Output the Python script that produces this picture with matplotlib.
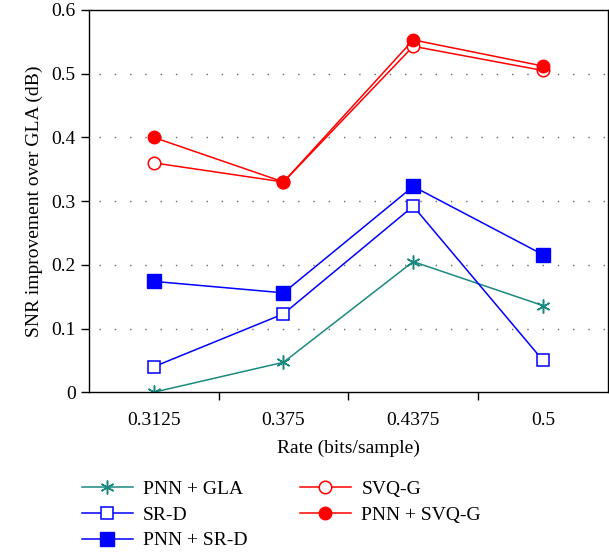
import matplotlib
matplotlib.use("Agg")
import matplotlib.pyplot as plt
from matplotlib.ticker import FixedLocator, NullFormatter

plt.rcParams["font.family"] = ["Liberation Serif", "DejaVu Serif"]

rates = [0.3125, 0.375, 0.4375, 0.5]
rate_labels = ["0.3125", "0.375", "0.4375", "0.5"]

pnn_gla = [0.0, 0.047, 0.205, 0.136]
sr_d = [0.040, 0.123, 0.292, 0.050]
pnn_sr_d = [0.174, 0.156, 0.323, 0.216]
svq_g = [0.360, 0.330, 0.543, 0.505]
pnn_svq_g = [0.400, 0.330, 0.553, 0.512]

fig = plt.figure(figsize=(6.09, 5.54), dpi=100)
ax = fig.add_axes([0.146, 0.292, 0.852, 0.690])

# dotted horizontal guides
for yv in [0.1, 0.2, 0.3, 0.4, 0.5]:
    ax.axhline(yv, xmin=0.02, color="#666666", linestyle=(0, (1, 10)),
               linewidth=1.0, zorder=0)

teal = "#1a8a80"
blue = "#0000ff"
red = "#ff0000"
ax.plot(rates, pnn_gla, color=teal, lw=1.1, marker=(6, 2, 0), ms=10, mew=1.1,
        label="PNN + GLA")
ax.plot(rates, sr_d, color=blue, lw=1.1, marker="s", ms=9, mfc="white",
        mec=blue, mew=1.1, label="SR-D")
ax.plot(rates, pnn_sr_d, color=blue, lw=1.1, marker="s", ms=10,
        mfc=blue, mec=blue, label="PNN + SR-D")
ax.plot(rates, svq_g, color=red, lw=1.1, marker="o", ms=9, mfc="white",
        mec=red, mew=1.1, label="SVQ-G")
ax.plot(rates, pnn_svq_g, color=red, lw=1.1, marker="o", ms=9,
        mfc=red, mec=red, label="PNN + SVQ-G")

ax.set_xlim(0.28125, 0.53125)
ax.set_ylim(0, 0.6)
ax.set_xticks(rates)
ax.set_xticklabels(rate_labels)
ax.tick_params(axis="x", which="major", length=0, pad=14, labelsize=14)
ax.xaxis.set_minor_locator(FixedLocator([0.34375, 0.40625, 0.46875]))
ax.xaxis.set_minor_formatter(NullFormatter())
ax.tick_params(axis="x", which="minor", direction="out", length=6, width=1)
ax.set_yticks([0, 0.1, 0.2, 0.3, 0.4, 0.5, 0.6])
ax.set_yticklabels(["0", "0.1", "0.2", "0.3", "0.4", "0.5", "0.6"])
ax.tick_params(axis="y", direction="out", length=6, width=1, labelsize=14)
for s in ax.spines.values():
    s.set_linewidth(1.0)

ax.set_xlabel("Rate (bits/sample)", fontsize=14, labelpad=8)
ax.set_ylabel("SNR improvement over GLA (dB)", fontsize=14, labelpad=6)

fig.legend(loc="upper left", bbox_to_anchor=(0.1346, 0.133), ncol=2,
           frameon=False, fontsize=14, handlelength=2.6, columnspacing=2.7,
           labelspacing=0.42, handletextpad=0.55, borderpad=0,
           borderaxespad=0)

fig.savefig("out.png", dpi=100)
